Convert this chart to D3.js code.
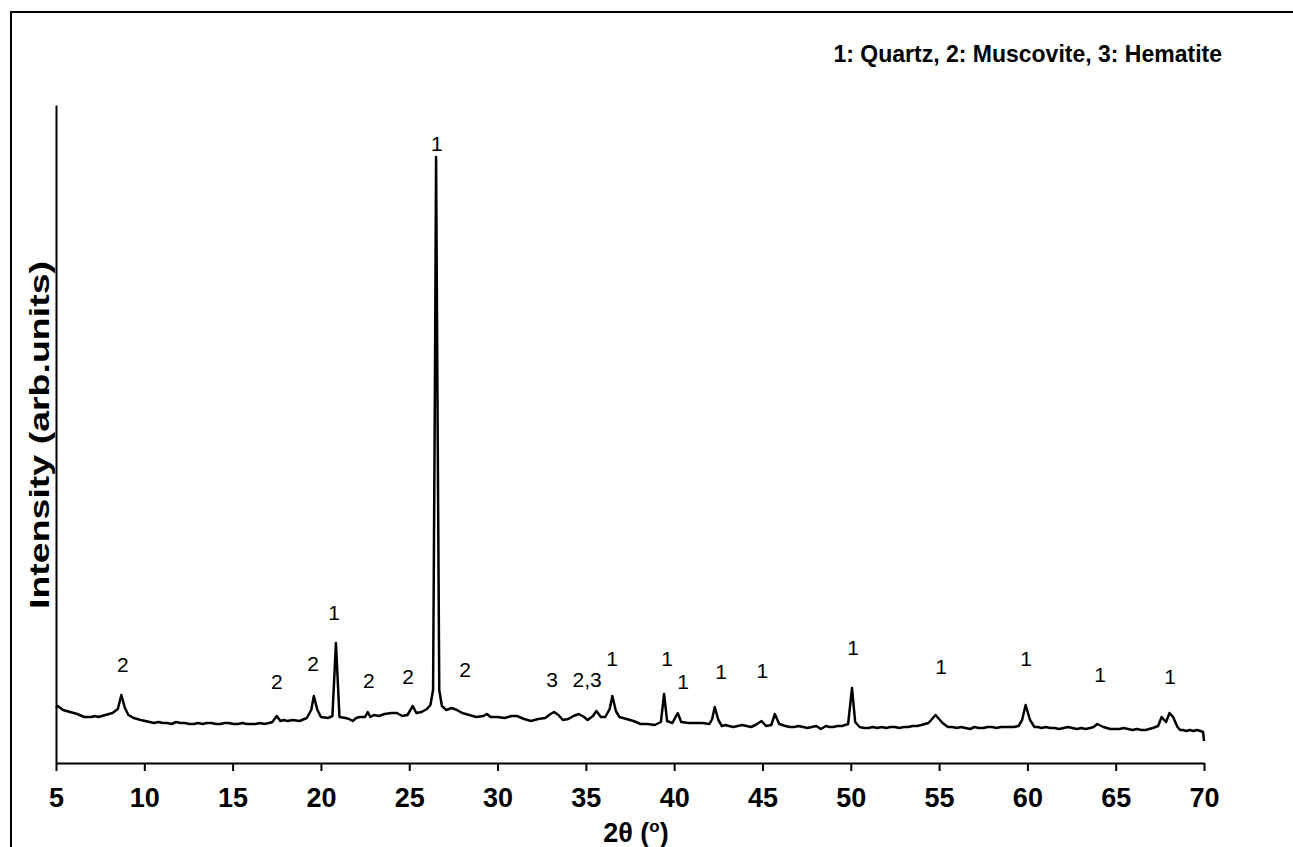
<!DOCTYPE html>
<html>
<head>
<meta charset="utf-8">
<script src="https://cdn.jsdelivr.net/npm/d3@7"></script>
<style>
  body { margin: 0; background: #fff; }
  svg text { font-family: "Liberation Sans", Arial, sans-serif; fill: #000; }
</style>
</head>
<body>
<div id="chart"></div>
<script>
// diffraction scan: [2θ (deg), intensity (arb.)]
const scan = [
  [5.0, 55], [5.1, 57], [5.4, 53], [5.8, 51], [6.2, 49], [6.6, 46], [7.0, 46], [7.2, 47],
  [7.4, 46], [7.8, 48], [8.2, 50], [8.5, 54], [8.7, 68], [8.9, 55], [9.1, 48], [9.4, 45],
  [9.8, 43], [10.05, 42], [10.3, 41], [10.55, 40], [10.8, 41], [11.05, 40], [11.3, 40],
  [11.55, 39], [11.8, 41], [12.05, 40], [12.3, 40], [12.55, 39], [12.8, 39], [13.05, 40],
  [13.3, 39], [13.55, 40], [13.8, 40], [14.05, 39], [14.3, 39], [14.55, 40], [14.8, 40],
  [15.05, 39], [15.3, 39], [15.55, 40], [15.8, 39], [16.05, 39], [16.3, 39], [16.55, 40],
  [16.8, 39], [17.05, 40], [17.25, 41], [17.5, 47], [17.7, 42], [17.9, 43], [18.1, 42],
  [18.4, 43], [18.8, 42], [19.2, 45], [19.45, 53], [19.6, 67], [19.8, 53], [20.0, 46],
  [20.4, 45], [20.65, 47], [20.75, 83], [20.85, 120], [20.95, 83], [21.05, 46], [21.4, 45],
  [21.6, 44], [21.8, 42], [22.0, 45], [22.2, 46], [22.5, 46], [22.65, 51], [22.8, 46],
  [23.0, 48], [23.3, 47], [23.6, 49], [24.0, 50], [24.3, 50], [24.6, 47], [24.9, 48],
  [25.2, 57], [25.4, 50], [25.7, 51], [26.0, 54], [26.2, 58], [26.35, 73], [26.45, 363],
  [26.52, 606], [26.6, 363], [26.7, 73], [26.85, 57], [27.1, 53], [27.4, 55], [27.7, 53],
  [28.0, 50], [28.4, 48], [28.8, 46], [29.2, 47], [29.4, 49], [29.6, 46], [30.0, 46],
  [30.4, 45], [30.8, 47], [31.1, 47], [31.5, 44], [31.9, 42], [32.3, 44], [32.7, 45],
  [33.0, 49], [33.2, 51], [33.45, 48], [33.7, 43], [34.0, 44], [34.3, 47], [34.6, 49],
  [34.9, 46], [35.1, 43], [35.4, 47], [35.6, 52], [35.85, 46], [36.1, 46], [36.35, 54],
  [36.5, 67], [36.7, 52], [36.9, 46], [37.3, 44], [37.7, 42], [38.1, 39], [38.5, 39],
  [38.9, 38], [39.25, 41], [39.43, 69], [39.6, 42], [39.9, 40], [40.2, 50], [40.4, 41],
  [40.8, 40], [41.2, 40], [41.6, 40], [42.0, 39], [42.15, 44], [42.3, 56], [42.5, 43],
  [42.7, 37], [42.9, 38], [43.1, 37], [43.35, 36], [43.6, 37], [43.85, 38], [44.1, 37],
  [44.35, 36], [44.6, 38], [44.95, 42], [45.2, 37], [45.5, 38], [45.7, 49], [45.95, 39],
  [46.3, 37], [46.55, 36], [46.8, 36], [47.05, 37], [47.3, 36], [47.55, 35], [47.8, 36],
  [48.05, 37], [48.3, 34], [48.6, 37], [48.8, 36], [49.0, 36], [49.25, 37], [49.5, 37],
  [49.85, 39], [50.07, 75], [50.25, 41], [50.5, 36], [50.75, 35], [51.0, 35], [51.25, 36],
  [51.5, 35], [51.75, 36], [52.0, 35], [52.25, 36], [52.5, 36], [52.75, 35], [53.0, 36],
  [53.25, 36], [53.5, 37], [53.75, 37], [54.0, 38], [54.4, 40], [54.8, 48], [55.2, 40],
  [55.5, 36], [55.75, 36], [56.0, 35], [56.25, 36], [56.5, 35], [56.75, 34], [57.0, 36],
  [57.25, 35], [57.5, 35], [57.75, 36], [58.0, 36], [58.25, 35], [58.5, 36], [58.75, 36],
  [59.0, 36], [59.25, 36], [59.5, 37], [59.7, 43], [59.9, 58], [60.15, 43], [60.4, 36],
  [60.6, 36], [60.8, 35], [61.05, 36], [61.3, 35], [61.55, 35], [61.8, 34], [62.05, 35],
  [62.3, 36], [62.55, 35], [62.8, 34], [63.05, 35], [63.3, 34], [63.55, 35], [63.75, 36],
  [63.95, 39], [64.3, 36], [64.5, 35], [64.7, 34], [64.95, 34], [65.2, 34], [65.45, 35],
  [65.7, 34], [65.95, 33], [66.2, 34], [66.45, 33], [66.7, 33], [66.9, 34], [67.1, 35],
  [67.4, 37], [67.6, 46], [67.85, 41], [68.05, 50], [68.25, 46], [68.5, 36], [68.65, 33],
  [68.8, 33], [69.0, 32], [69.2, 33], [69.4, 32], [69.6, 33], [69.8, 32], [69.95, 31],
  [70.0, 22]
];

// phase labels above the reflections
const peakLabels = ['2', '2', '2', '1', '2', '2', '1', '2', '3', '2,3',
  '1', '1', '1', '1', '1', '1', '1', '1', '1', '1'];
const labelTheta = [8.79, 17.51, 19.55, 20.74, 22.72, 24.93, 26.57, 28.16, 33.09, 35.07,
  36.48, 39.6, 40.5, 42.66, 45.0, 50.13, 55.11, 59.93, 64.12, 68.08];
const labelLevel = [98, 81, 99, 150, 82, 86, 619, 93, 83, 83,
  104, 104, 81, 91, 92, 115, 96, 104, 88, 86];

const xTicks = [5, 10, 15, 20, 25, 30, 35, 40, 45, 50, 55, 60, 65, 70];
const legendText = '1: Quartz, 2: Muscovite, 3: Hematite';

const width = 1293;
const height = 847;
const margin = { top: 105, right: 89, bottom: 84, left: 56 };
const innerW = width - margin.left - margin.right;
const innerH = height - margin.top - margin.bottom;

const svg = d3.select('#chart').append('svg')
  .attr('width', width)
  .attr('height', height);

// outer frame (runs off the right and bottom edges)
svg.append('rect')
  .attr('x', 11).attr('y', 12)
  .attr('width', 1320).attr('height', 900)
  .attr('fill', 'none')
  .attr('stroke', '#000')
  .attr('stroke-width', 2);

const g = svg.append('g')
  .attr('transform', `translate(${margin.left},${margin.top})`);

const x = d3.scaleLinear().domain([5, 70]).range([0, innerW]);
const y = d3.scaleLinear().domain([0, 658]).range([innerH, 0]);

// x axis
const xAxis = g.append('g')
  .attr('transform', `translate(0,${innerH})`)
  .call(d3.axisBottom(x).tickValues(xTicks).tickSize(8).tickSizeOuter(0).tickPadding(17));
xAxis.select('.domain').attr('stroke-width', 2);
xAxis.selectAll('.tick line').attr('stroke-width', 2);
xAxis.selectAll('.tick text')
  .style('font-family', '"Liberation Sans", Arial, sans-serif')
  .attr('font-size', 27)
  .attr('font-weight', 'bold');

// y axis, no ticks
const yAxis = g.append('g')
  .call(d3.axisLeft(y).tickValues([]).tickSizeOuter(0));
yAxis.select('.domain').attr('stroke-width', 2);

// pattern
const line = d3.line()
  .x((d) => x(d[0]))
  .y((d) => y(d[1]));

g.append('path')
  .datum(scan)
  .attr('fill', 'none')
  .attr('stroke', '#000')
  .attr('stroke-width', 2.5)
  .attr('stroke-linejoin', 'round')
  .attr('d', line);

// peak labels
g.selectAll('.peak')
  .data(peakLabels)
  .enter().append('text')
  .attr('class', 'peak')
  .attr('x', (d, i) => x(labelTheta[i]))
  .attr('y', (d, i) => y(labelLevel[i]))
  .attr('dy', '0.35em')
  .attr('text-anchor', 'middle')
  .attr('font-size', 21)
  .text((d) => d);

// legend line
svg.append('text')
  .attr('x', 1222).attr('y', 62)
  .attr('text-anchor', 'end')
  .attr('font-size', 23)
  .attr('font-weight', 'bold')
  .text(legendText);

// axis titles
const xt = svg.append('text')
  .attr('x', margin.left + innerW / 2 + 6).attr('y', 842)
  .attr('text-anchor', 'middle')
  .attr('font-size', 27)
  .attr('font-weight', 'bold');
xt.append('tspan').text('2θ (');
xt.append('tspan').attr('font-size', 17).attr('dy', -10).text('o');
xt.append('tspan').attr('dy', 10).text(')');

svg.append('text')
  .attr('transform', `translate(49,${margin.top + innerH / 2 + 1}) rotate(-90)`)
  .attr('text-anchor', 'middle')
  .attr('font-size', 28)
  .attr('font-weight', 'bold')
  .attr('textLength', 348)
  .attr('lengthAdjust', 'spacingAndGlyphs')
  .text('Intensity (arb.units)');
</script>
</body>
</html>
